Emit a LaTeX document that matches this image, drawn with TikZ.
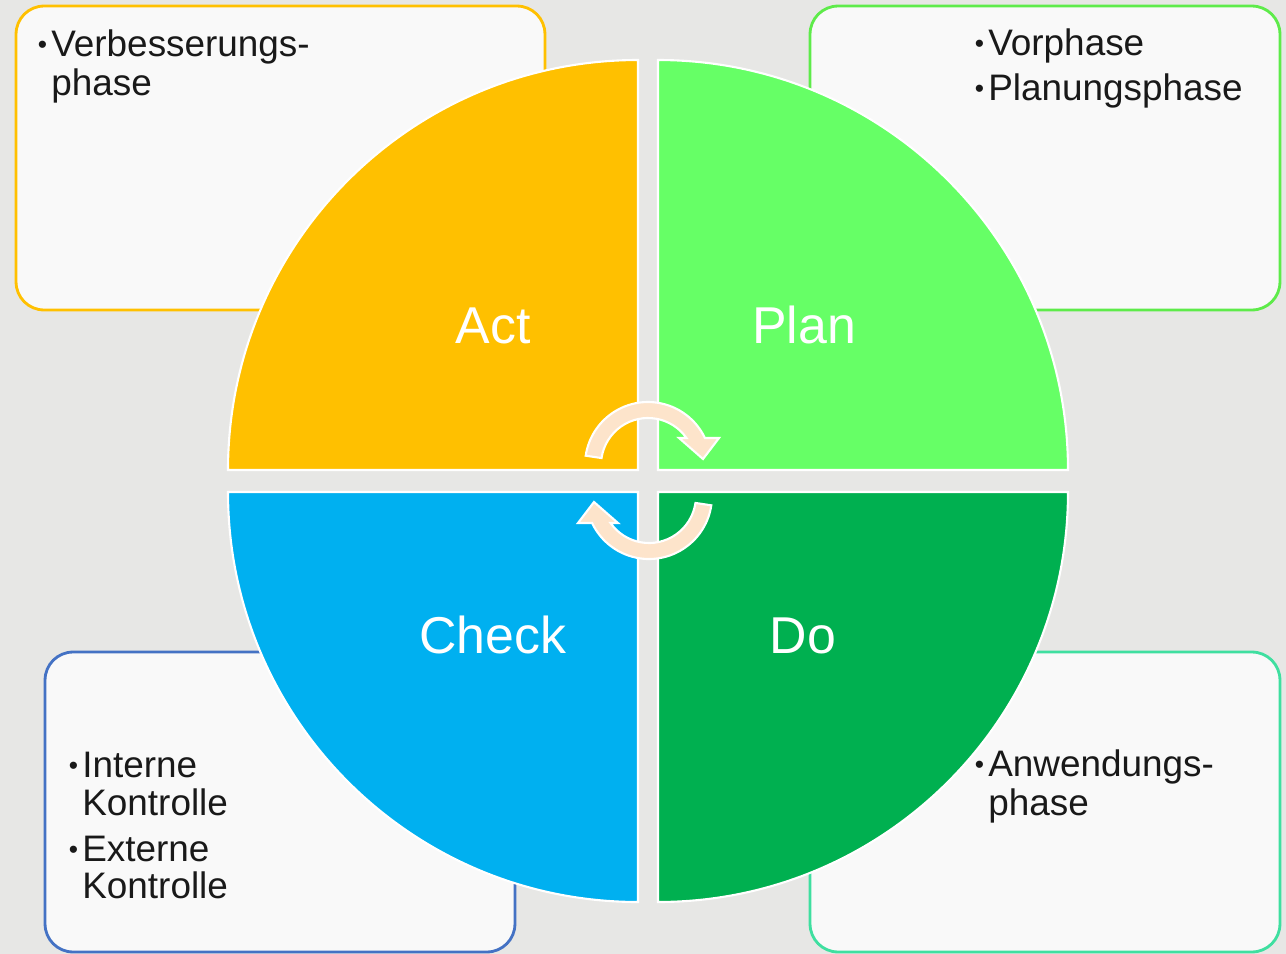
\documentclass[tikz,border=0pt]{standalone}
\usepackage{fontspec}
\setmainfont{Liberation Sans}
\definecolor{bg}{HTML}{E7E7E5}
\definecolor{actc}{HTML}{FFC000}
\definecolor{planc}{HTML}{66FF66}
\definecolor{checkc}{HTML}{00B0F0}
\definecolor{doc}{HTML}{00B050}
\definecolor{arrc}{HTML}{FDE4CB}
\definecolor{boxfill}{HTML}{F9F9F9}
\definecolor{tlb}{HTML}{FFC000}
\definecolor{trb}{HTML}{5EEB4A}
\definecolor{blb}{HTML}{4472C4}
\definecolor{brb}{HTML}{3FDFA0}
\newcommand\bul{\makebox[0.3cm][l]{\hspace{0.03cm}\raisebox{1.2pt}{\fontsize{15}{15}\selectfont\textbullet}}}
\tikzset{
  infobox/.style={draw=#1, fill=boxfill, line width=1.6pt, rounded corners=0.56cm, rectangle, inner sep=0pt},
  quad/.style={fill=#1, draw=white, line width=1.2pt},
  qlabel/.style={text=white, font=\fontsize{29.5}{31}\selectfont, inner sep=0pt, anchor=base},
  bline/.style={text=black!90, font=\fontsize{21}{22}\selectfont, inner sep=0pt, anchor=base west},
  cyclearrow/.style={fill=arrc, draw=white, line width=1.2pt, line join=miter}
}
\begin{document}
\begin{tikzpicture}[x=0.02cm, y=-0.02cm]
\useasboundingbox (0,0) rectangle (1286,954);
\fill[bg] (0,0) rectangle (1286,954);
% boxes
\node[infobox=tlb, minimum width=10.58cm, minimum height=6.08cm] (tlbox) at (280.5,158) {};
\node[infobox=trb, minimum width=9.4cm, minimum height=6.08cm] (trbox) at (1045,158) {};
\node[infobox=blb, minimum width=9.4cm, minimum height=6cm] (blbox) at (280,802) {};
\node[infobox=brb, minimum width=9.4cm, minimum height=6cm] (brbox) at (1045,802) {};
% box texts
\node[bline] (tl1) at (36,56) {\bul Verbesserungs-};
\node[bline] (tl2) at (51,95) {phase};
\node[bline] (tr1) at (973,55) {\bul Vorphase};
\node[bline] (tr2) at (973,100) {\bul Planungsphase};
\node[bline] (bl1) at (67,777) {\bul Interne};
\node[bline] (bl2) at (82,815) {Kontrolle};
\node[bline] (bl3) at (67,861) {\bul Externe};
\node[bline] (bl4) at (82,898) {Kontrolle};
\node[bline] (br1) at (973,776) {\bul Anwendungs-};
\node[bline] (br2) at (988,815) {phase};
% quadrants
\filldraw[quad=actc] (638,470) -- ++(180:410) arc[start angle=180, end angle=270, radius=410] -- cycle;
\filldraw[quad=planc] (658,470) -- ++(270:410) arc[start angle=270, end angle=360, radius=410] -- cycle;
\filldraw[quad=doc] (658,492) -- ++(0:410) arc[start angle=0, end angle=90, radius=410] -- cycle;
\filldraw[quad=checkc] (638,492) -- ++(90:410) arc[start angle=90, end angle=180, radius=410] -- cycle;
% labels
\node[qlabel] (act) at (493,343) {Act};
\node[qlabel] (plan) at (804,343) {Plan};
\node[qlabel] (check) at (493,653) {Check};
\node[qlabel] (do) at (803,653) {Do};
% cycle arrows
\begin{scope}[shift={(648,465)}, yscale=-1]
\filldraw[cyclearrow] (171.5:63) arc[start angle=171.5, end angle=25.4, radius=63] -- (71,27) -- (55,6) -- (31,27) -- (35.1:47) arc[start angle=35.1, end angle=171.5, radius=47] -- cycle;
\end{scope}
\begin{scope}[shift={(649,496)}, xscale=-1]
\filldraw[cyclearrow] (171.5:63) arc[start angle=171.5, end angle=25.4, radius=63] -- (71,27) -- (55,6) -- (31,27) -- (35.1:47) arc[start angle=35.1, end angle=171.5, radius=47] -- cycle;
\end{scope}
\end{tikzpicture}
\end{document}
